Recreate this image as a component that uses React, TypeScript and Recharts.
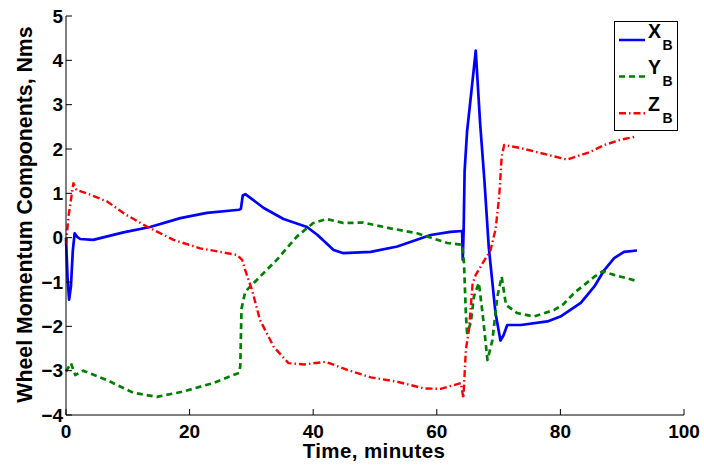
import { Legend, Line, LineChart, XAxis, YAxis } from 'recharts'

const FONT = '"Liberation Sans", Arial, Helvetica, sans-serif'

const timeTicks = [0, 20, 40, 60, 80, 100]
const momentumTicks = [-4, -3, -2, -1, 0, 1, 2, 3, 4, 5]

const xbTime = [0, 0.25, 0.5, 0.8, 1.1, 1.4, 1.8, 2.3, 4.4, 9.3, 13.6, 18.5, 22.8, 28, 28.3, 28.6, 29, 29.5, 30.1, 32, 35.2, 39, 40.7, 43.3, 44.9, 49.3, 53.6, 59, 62.2, 64.1, 64.2, 64.35, 64.5, 64.9, 65.6, 66.3, 67, 67.7, 68.4, 69.5, 70.3, 70.8, 71.4, 73.6, 77.9, 80, 83.3, 85.5, 87.1, 88.7, 90.3, 92.4]
const xbValue = [0, -0.9, -1.4, -1.1, -0.3, 0.1, 0.02, -0.03, -0.05, 0.12, 0.24, 0.44, 0.56, 0.63, 0.65, 0.95, 0.98, 0.93, 0.87, 0.67, 0.42, 0.24, 0.06, -0.28, -0.35, -0.32, -0.2, 0.06, 0.13, 0.15, -0.5, 0.2, 1.5, 2.4, 3.3, 4.22, 2.6, 1.3, -0.2, -1.7, -2.32, -2.2, -1.97, -1.97, -1.89, -1.78, -1.47, -1.1, -0.73, -0.46, -0.32, -0.29]

const ybTime = [0, 0.8, 1.5, 2.8, 6.6, 10.9, 14.7, 19, 23.8, 28, 28.2, 28.4, 29, 31.4, 34.1, 37.4, 40, 42.2, 44.9, 48.1, 52.5, 56.8, 61.7, 64.1, 64.4, 64.7, 64.9, 65.5, 66, 66.8, 67.4, 68.2, 69, 69.8, 70.5, 71.2, 73, 75.7, 79, 80.5, 82.2, 83.8, 85.5, 86.8, 88.7, 92.2]
const ybValue = [-3.02, -2.83, -3.1, -3.0, -3.21, -3.5, -3.59, -3.47, -3.28, -3.05, -2.9, -1.6, -1.22, -0.88, -0.5, 0.03, 0.33, 0.42, 0.33, 0.34, 0.21, 0.1, -0.12, -0.16, -0.57, -1.7, -2.15, -1.92, -1.33, -1.02, -1.7, -2.76, -2.31, -1.33, -0.88, -1.52, -1.7, -1.78, -1.63, -1.5, -1.25, -1.07, -0.88, -0.76, -0.84, -0.97]

const zbTime = [0, 0.4, 1.2, 1.7, 3.9, 6.6, 9.8, 13.1, 17.4, 21.7, 27.7, 28.5, 29, 30.1, 31.4, 33.6, 36, 38.5, 42, 45.5, 49.3, 53.6, 57.9, 60.6, 63.9, 64.3, 64.7, 65.2, 65.8, 66.3, 67.4, 68.7, 69.5, 70.1, 70.5, 70.9, 73.6, 77.9, 81.1, 84.9, 87.1, 89.8, 92.2]
const zbValue = [-0.16, 0.48, 1.23, 1.08, 0.97, 0.82, 0.51, 0.25, -0.05, -0.24, -0.39, -0.5, -0.73, -1.18, -1.86, -2.46, -2.83, -2.86, -2.8, -2.98, -3.15, -3.25, -3.4, -3.41, -3.28, -3.62, -2.53, -2.08, -1.03, -0.84, -0.58, -0.28, 0.18, 0.93, 1.83, 2.09, 2.02, 1.87, 1.76, 1.94, 2.09, 2.21, 2.28]

const zip = (ts: number[], vs: number[]) => ts.map((t, i) => ({ t, v: vs[i] }))
const xbData = zip(xbTime, xbValue)
const ybData = zip(ybTime, ybValue)
const zbData = zip(zbTime, zbValue)

const fmtTick = (v: number) => (v < 0 ? '\u2212' + Math.abs(v) : String(v))

function LegendBox({ payload }: any) {
  return (
    <svg width={64} height={110} style={{ display: 'block' }}>
      <rect x={0.5} y={0.5} width={63} height={109} fill="#fff" stroke="#000" />
      {(payload || []).map((entry: any, i: number) => {
        const [main, sub] = String(entry.value).split('_')
        const base = 16.5 + 36.6 * i
        return (
          <g key={entry.value}>
            <line x1={5} x2={31} y1={base + 2.5} y2={base + 2.5} stroke={entry.color} strokeWidth={2.5} strokeDasharray={entry.payload?.strokeDasharray} />
            <text x={34} y={base} fontFamily={FONT} fontWeight={700} fontSize={19.5}>{main}</text>
            <text x={48.5} y={base + 12} fontFamily={FONT} fontWeight={700} fontSize={14}>{sub}</text>
          </g>
        )
      })}
    </svg>
  )
}

function YTitle({ viewBox }: any) {
  const x = viewBox.x + 32
  const y = viewBox.y + viewBox.height / 2 - 1
  return (
    <text x={x} y={y} transform={`rotate(-90 ${x} ${y})`} textAnchor="middle" fontFamily={FONT} fontWeight={700} fontSize={21.3} fill="#000">
      Wheel Momentum Components, Nms
    </text>
  )
}

function XTitle({ viewBox }: any) {
  const x = viewBox.x + viewBox.width / 2 - 1
  const y = viewBox.y + 43
  return (
    <text x={x} y={y} textAnchor="middle" fontFamily={FONT} fontWeight={700} fontSize={20.5} letterSpacing={0.4} fill="#000">
      Time, minutes
    </text>
  )
}

const tickStyle = { fill: '#000', fontSize: 19, fontWeight: 700, fontFamily: FONT }
const axisStroke = { stroke: '#000', strokeWidth: 1 }

export default function App() {
  return (
    <div style={{ position: 'absolute', left: 0, top: 0, width: 704, height: 466, background: '#fff' }}>
      <LineChart width={704} height={466} margin={{ top: 16, right: 20, bottom: 0, left: 0 }}>
        <XAxis type="number" dataKey="t" domain={[0, 100]} ticks={timeTicks} tickFormatter={fmtTick} tick={tickStyle} tickSize={-6} tickMargin={15.5} height={51} axisLine={axisStroke} tickLine={axisStroke} interval={0} label={<XTitle />} />
        <XAxis xAxisId="top" orientation="top" type="number" dataKey="t" domain={[0, 100]} ticks={timeTicks} tickFormatter={() => ''} tickSize={-6} height={0} axisLine={axisStroke} tickLine={axisStroke} interval={0} />
        <YAxis type="number" domain={[-4, 5]} ticks={momentumTicks} tickFormatter={fmtTick} tick={tickStyle} tickSize={-6} tickMargin={9} width={66} axisLine={axisStroke} tickLine={axisStroke} interval={0} label={<YTitle />} />
        <YAxis yAxisId="right" orientation="right" type="number" domain={[-4, 5]} ticks={momentumTicks} tickFormatter={() => ''} tickSize={-6} width={0} axisLine={axisStroke} tickLine={axisStroke} interval={0} />
        <Line name="X_B" data={xbData} dataKey="v" type="linear" stroke="#0000ff" strokeWidth={2.7} dot={false} activeDot={false} isAnimationActive={false} strokeLinejoin="round" />
        <Line name="Y_B" data={ybData} dataKey="v" type="linear" stroke="#008000" strokeWidth={2.7} strokeDasharray="6 4" dot={false} activeDot={false} isAnimationActive={false} strokeLinejoin="round" />
        <Line name="Z_B" data={zbData} dataKey="v" type="linear" stroke="#ff0000" strokeWidth={2.4} strokeDasharray="7 3 1.5 3" dot={false} activeDot={false} isAnimationActive={false} strokeLinejoin="round" />
        <Legend layout="horizontal" align="center" verticalAlign="middle" content={<LegendBox />} wrapperStyle={{ left: 614, top: 21, width: 64, height: 110 }} />
      </LineChart>
    </div>
  )
}
